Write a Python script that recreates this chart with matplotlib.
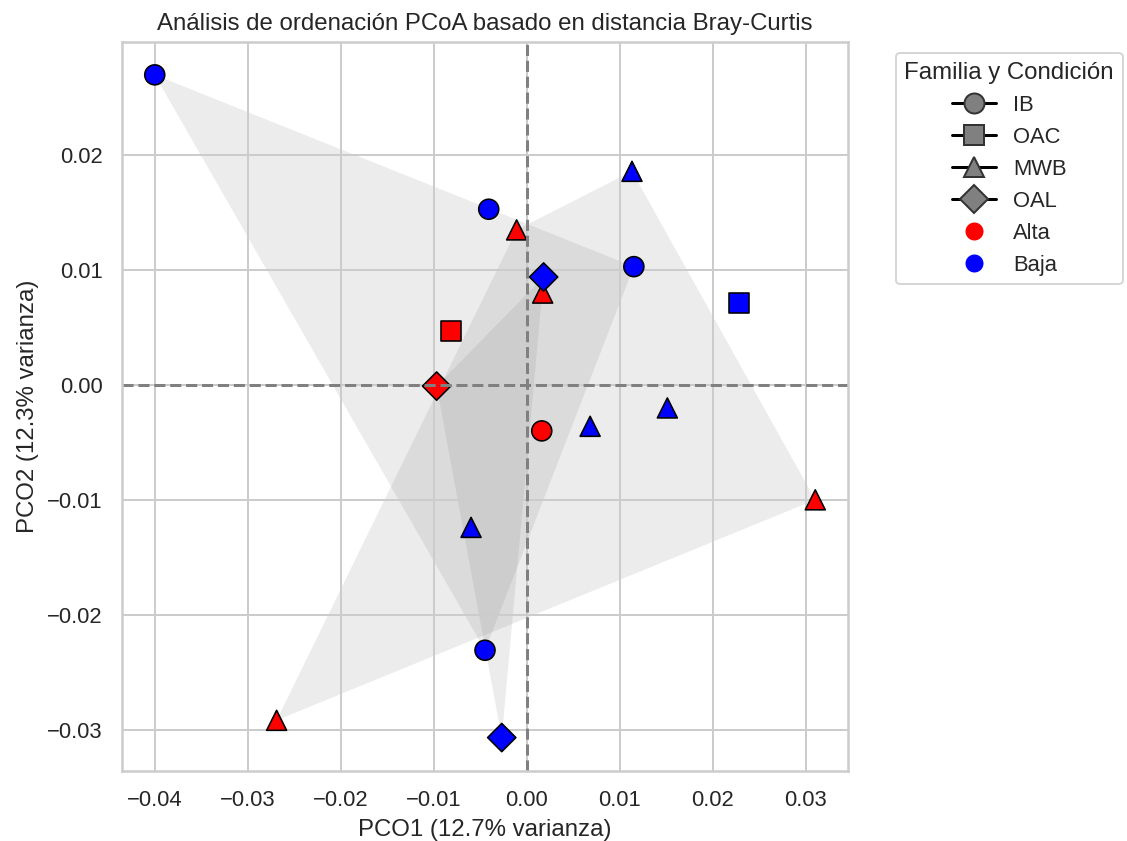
import numpy as np
import pandas as pd
import matplotlib
matplotlib.use("Agg")
import matplotlib.pyplot as plt
import seaborn as sns
from matplotlib.lines import Line2D

# PCoA scores per sample
familia = ['IB'] * 5 + ['OAC'] * 2 + ['MWB'] * 8 + ['OAL'] * 3
condicion = ['Baja', 'Baja', 'Baja', 'Alta', 'Baja',
             'Alta', 'Baja',
             'Alta', 'Alta', 'Baja', 'Baja', 'Baja', 'Alta', 'Baja', 'Alta',
             'Baja', 'Alta', 'Baja']
pco1 = [-0.0400, -0.0041, 0.0115, 0.0016, -0.0045,
        -0.0082, 0.0228,
        -0.0011, 0.0017, 0.0113, 0.0151, 0.0068, 0.0310, -0.0060, -0.0269,
        0.0018, -0.0097, -0.0027]
pco2 = [0.0270, 0.0153, 0.0103, -0.0040, -0.0231,
        0.0047, 0.0071,
        0.0135, 0.0080, 0.0186, -0.0020, -0.0036, -0.0100, -0.0124, -0.0292,
        0.0094, -0.0001, -0.0307]

familias = ['IB', 'OAC', 'MWB', 'OAL']
marcadores = {'IB': 'o', 'OAC': 's', 'MWB': '^', 'OAL': 'D'}
colores = {'Alta': 'red', 'Baja': 'blue'}

df = pd.DataFrame({'PCO1': pco1, 'PCO2': pco2,
                   'Familia': familia, 'Condicion': condicion})


def convex_hull(pts):
    # monotone chain
    pts = sorted(map(tuple, pts))
    if len(pts) < 3:
        return pts

    def cross(o, a, b):
        return (a[0] - o[0]) * (b[1] - o[1]) - (a[1] - o[1]) * (b[0] - o[0])

    lower = []
    for p in pts:
        while len(lower) >= 2 and cross(lower[-2], lower[-1], p) <= 0:
            lower.pop()
        lower.append(p)
    upper = []
    for p in reversed(pts):
        while len(upper) >= 2 and cross(upper[-2], upper[-1], p) <= 0:
            upper.pop()
        upper.append(p)
    return lower[:-1] + upper[:-1]


sns.set_theme(style="whitegrid")
plt.rcParams['font.family'] = ['Liberation Sans', 'DejaVu Sans']

fig = plt.figure(figsize=(1127 / 144, 841 / 144), dpi=144)
ax = fig.add_axes([0.108, 0.0836, 0.7527 - 0.108, 0.9504 - 0.0836])

for fam in familias:
    sub = df[df['Familia'] == fam]
    if len(sub) >= 3:
        hull = np.array(convex_hull(sub[['PCO1', 'PCO2']].values))
        ax.fill(hull[:, 0], hull[:, 1], color='gray', alpha=0.15,
                linewidth=0, zorder=0.5)

sns.scatterplot(data=df, x='PCO1', y='PCO2', hue='Condicion', style='Familia',
                palette=colores, markers=marcadores, s=100, edgecolor='black',
                legend=False, ax=ax)

ax.axhline(0, color='gray', linestyle='--', linewidth=1.5)
ax.axvline(0, color='gray', linestyle='--', linewidth=1.5)

ax.set_title('Análisis de ordenación PCoA basado en distancia Bray-Curtis')
ax.set_xlabel('PCO1 (12.7% varianza)')
ax.set_ylabel('PCO2 (12.3% varianza)')

handles = [Line2D([0], [0], marker=marcadores[f], color='black',
                  markerfacecolor='gray', markeredgecolor='#333333',
                  markersize=10, label=f) for f in familias]
handles += [Line2D([0], [0], marker='o', color='w', markerfacecolor=colores[c],
                   markersize=10, label=c) for c in ['Alta', 'Baja']]
ax.legend(handles=handles, title='Familia y Condición',
          bbox_to_anchor=(1.05, 1), loc='upper left')

fig.savefig('out.png', dpi=144)
